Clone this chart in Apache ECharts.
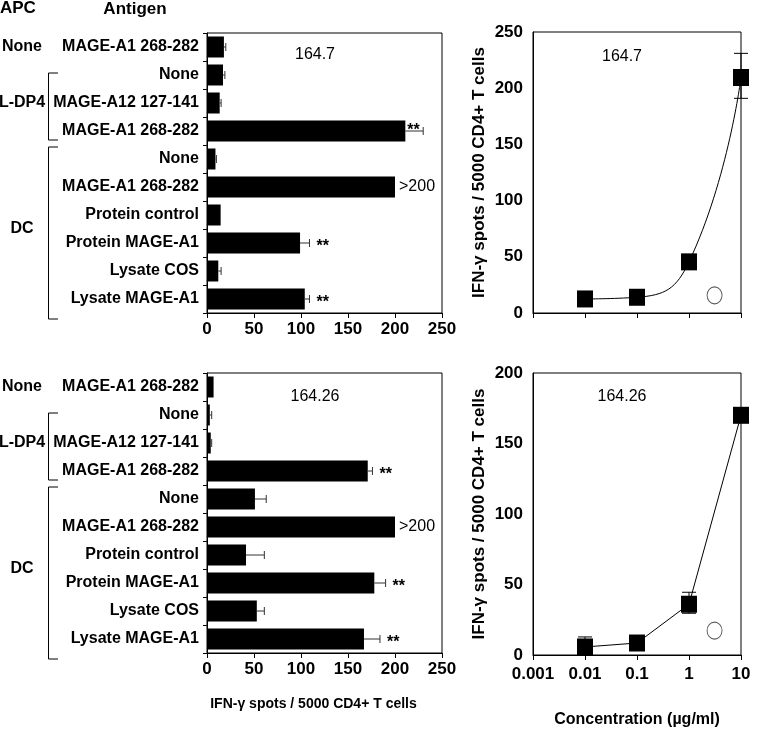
<!DOCTYPE html>
<html>
<head>
<meta charset="utf-8">
<title>IFN-γ spots</title>
<script src="https://cdn.jsdelivr.net/npm/echarts@6/dist/echarts.min.js"></script>
<style>
  html, body { margin: 0; padding: 0; background: #fff; }
  #chart { width: 761px; height: 729px; }
</style>
</head>
<body>
<div id="chart"></div>
<script>
// antigens on the left panels, top to bottom
var antigens = ['MAGE-A1 268-282', 'None', 'MAGE-A12 127-141', 'MAGE-A1 268-282', 'None',
  'MAGE-A1 268-282', 'Protein control', 'Protein MAGE-A1', 'Lysate COS', 'Lysate MAGE-A1'];
var apcNames = ['None', 'L-DP4', 'DC'];
var apcFrom = [0, 1, 4];
var apcTo = [0, 3, 9];

// clone 164.7
var spots7 = [18, 17, 13.5, 211, 9, 200, 14.5, 99, 12, 104];
var spots7Err = [20, 19, 15, 230, 10, null, null, 109, 15, 109];
var marks7 = ['', '', '', '**', '', '>200', '', '**', '', '**'];
// clone 164.26
var spots26 = [7, 3, 4, 171, 51, 200, 41.5, 178, 53, 167];
var spots26Err = [null, 5, 5, 176, 63, null, 61, 190, 61, 184];
var marks26 = ['', '', '', '**', '', '>200', '', '**', '', '**'];

// dose response (µg/ml)
var conc = [0.01, 0.1, 1, 10];
var dose7 = [12.5, 14, 45.5, 209.5];
var dose7Err = [null, null, null, [191, 231]];
var dose26 = [5.7, 8.5, 36, 170];
var dose26Err = [[0, 12.8], null, [29.6, 44.5], null];
var ctrlConc = [3.1];
var ctrl7 = [15.7];
var ctrl26 = [17.3];

var barTicks = [0, 50, 100, 150, 200, 250];
var dose7Ticks = [0, 50, 100, 150, 200, 250];
var dose26Ticks = [0, 50, 100, 150, 200];
var concTicks = [0.001, 0.01, 0.1, 1, 10];

var FONT = "'Liberation Sans', Arial, sans-serif";
var yTitle = 'IFN-γ spots / 5000 CD4+ T cells';

var BAR_LEFT = 207, BAR_W = 235, BAR_H = 280;
var PANEL_TOPS = [33, 373];
var ROW_H = BAR_H / antigens.length;

var chart = echarts.init(document.getElementById('chart'));

function txt(size, bold) {
  return { color: '#000', fontFamily: FONT, fontSize: size, fontWeight: bold ? 'bold' : 'normal' };
}

function barXAxis(gi, withName) {
  var ax = {
    type: 'value', gridIndex: gi,
    min: barTicks[0], max: barTicks[barTicks.length - 1], interval: barTicks[1] - barTicks[0],
    axisLine: { show: true, lineStyle: { color: '#000', width: 1 } },
    axisTick: { show: true, length: 5, lineStyle: { color: '#000' } },
    axisLabel: Object.assign({ margin: 8 }, txt(17, true)),
    splitLine: { show: false }
  };
  if (withName) {
    ax.name = yTitle;
    ax.nameLocation = 'middle';
    ax.nameGap = 44;
    ax.nameTextStyle = Object.assign({ padding: [0, 22, 0, 0] }, txt(14, true));
  }
  return ax;
}

function barYAxis(gi) {
  return {
    type: 'category', gridIndex: gi, data: antigens, inverse: true,
    axisLine: { show: true, lineStyle: { color: '#000', width: 1 } },
    axisTick: { show: true, length: 4, lineStyle: { color: '#000' } },
    axisLabel: Object.assign({ margin: 8, interval: 0 }, txt(16, true))
  };
}

function doseXAxis(gi, showLabels) {
  var ax = {
    type: 'log', logBase: 10, gridIndex: gi,
    min: concTicks[0], max: concTicks[concTicks.length - 1],
    axisLine: { show: true, lineStyle: { color: '#000', width: 1 } },
    axisTick: { show: true, length: 5, lineStyle: { color: '#000' } },
    axisLabel: Object.assign({ show: showLabels, margin: 11 }, txt(17, true)),
    splitLine: { show: false }
  };
  if (showLabels) {
    ax.name = 'Concentration (µg/ml)';
    ax.nameLocation = 'middle';
    ax.nameGap = 57;
    ax.nameTextStyle = txt(16, true);
  }
  return ax;
}

function doseYAxis(gi, ticks) {
  return {
    type: 'value', gridIndex: gi,
    min: ticks[0], max: ticks[ticks.length - 1], interval: ticks[1] - ticks[0],
    axisLine: { show: true, lineStyle: { color: '#000', width: 1 } },
    axisTick: { show: false },
    axisLabel: Object.assign({ margin: 10 }, txt(17, true)),
    splitLine: { show: false },
    name: yTitle, nameLocation: 'middle', nameRotate: 90, nameGap: 45,
    nameTextStyle: txt(17, true)
  };
}

// error bar + significance text on the horizontal bars
function barErrSeries(gi, vals, errs, marks) {
  return {
    type: 'custom', xAxisIndex: gi, yAxisIndex: gi, silent: true, z: 4,
    data: vals.map(function (v, i) { return [v, i]; }),
    encode: { x: 0, y: 1 },
    renderItem: function (params, api) {
      var i = params.dataIndex;
      var pv = api.coord([vals[i], i]);
      var y = pv[1];
      var kids = [];
      var endX = pv[0];
      if (errs[i] != null) {
        var ph = api.coord([errs[i], i]);
        kids.push({ type: 'line', shape: { x1: pv[0], y1: y, x2: ph[0], y2: y }, style: { stroke: '#333', lineWidth: 1 } });
        kids.push({ type: 'line', shape: { x1: ph[0], y1: y - 4, x2: ph[0], y2: y + 4 }, style: { stroke: '#333', lineWidth: 1 } });
        endX = ph[0];
      }
      var m = marks[i];
      if (m) {
        var right = params.coordSys.x + params.coordSys.width;
        var isStar = m.indexOf('*') === 0;
        var tx = endX + (isStar ? 7 : 4);
        var ty = isStar ? y + 4 : y;
        if (tx + 16 > right) { tx = pv[0] + 2; ty = y; }
        kids.push({
          type: 'text',
          style: { text: m, x: tx, y: ty, fill: '#000', fontFamily: FONT, fontSize: 16,
            fontWeight: isStar ? 'bold' : 'normal', align: 'left', verticalAlign: 'middle' }
        });
      }
      return { type: 'group', children: kids };
    }
  };
}

function doseErrSeries(gi, vals, errs) {
  return {
    type: 'custom', xAxisIndex: gi, yAxisIndex: gi, silent: true, z: 2,
    data: conc.map(function (c, i) { return [c, vals[i]]; }),
    encode: { x: 0, y: 1 },
    renderItem: function (params, api) {
      var i = params.dataIndex;
      var e = errs[i];
      if (!e) return null;
      var lo = api.coord([conc[i], e[0]]);
      var hi = api.coord([conc[i], e[1]]);
      var st = { stroke: '#000', lineWidth: 1 };
      return {
        type: 'group', children: [
          { type: 'line', shape: { x1: lo[0], y1: lo[1], x2: hi[0], y2: hi[1] }, style: st },
          { type: 'line', shape: { x1: lo[0] - 7, y1: lo[1], x2: lo[0] + 7, y2: lo[1] }, style: st },
          { type: 'line', shape: { x1: hi[0] - 7, y1: hi[1], x2: hi[0] + 7, y2: hi[1] }, style: st }
        ]
      };
    }
  };
}

function doseLine(gi, vals, smooth) {
  return {
    type: 'line', xAxisIndex: gi, yAxisIndex: gi, silent: true, z: 3,
    data: conc.map(function (c, i) { return [c, vals[i]]; }),
    smooth: smooth ? 0.5 : false,
    symbol: 'rect', symbolSize: [16, 17], showAllSymbol: true,
    lineStyle: { color: '#000', width: 1 },
    itemStyle: { color: '#000' }
  };
}

function ctrlSeries(gi, vals) {
  return {
    type: 'scatter', xAxisIndex: gi, yAxisIndex: gi, silent: true, z: 3,
    data: ctrlConc.map(function (c, i) { return [c, vals[i]]; }),
    symbol: 'circle', symbolSize: [15, 17],
    itemStyle: { color: '#fff', borderColor: '#333', borderWidth: 1 }
  };
}

// APC labels + brackets
var graphics = [
  { type: 'text', left: 0, top: 0, style: { text: 'APC', fill: '#000', font: 'bold 17px ' + FONT } },
  { type: 'text', x: 135, y: 9, style: { text: 'Antigen', fill: '#000', font: 'bold 17px ' + FONT, align: 'center', verticalAlign: 'middle' } },
  { type: 'text', x: 315, y: 55, style: { text: '164.7', fill: '#000', font: '16px ' + FONT, align: 'center', verticalAlign: 'middle' } },
  { type: 'text', x: 315, y: 397, style: { text: '164.26', fill: '#000', font: '16px ' + FONT, align: 'center', verticalAlign: 'middle' } },
  { type: 'text', x: 622, y: 57, style: { text: '164.7', fill: '#000', font: '16px ' + FONT, align: 'center', verticalAlign: 'middle' } },
  { type: 'text', x: 622, y: 397, style: { text: '164.26', fill: '#000', font: '16px ' + FONT, align: 'center', verticalAlign: 'middle' } }
];
PANEL_TOPS.forEach(function (top) {
  apcNames.forEach(function (name, g) {
    var cy = top + ROW_H * (apcFrom[g] + apcTo[g] + 1) / 2;
    graphics.push({ type: 'text', x: 22, y: cy,
      style: { text: name, fill: '#000', font: 'bold 16px ' + FONT, align: 'center', verticalAlign: 'middle' } });
    if (apcTo[g] > apcFrom[g]) {
      var y1 = top + ROW_H * apcFrom[g] + (g === 1 ? 12 : 2);
      var y2 = top + ROW_H * (apcTo[g] + 1) + (g === 1 ? -5 : 6);
      graphics.push({ type: 'polyline', shape: { points: [[58, y1], [48.5, y1], [48.5, y2], [58, y2]] },
        style: { stroke: '#000', lineWidth: 1, fill: null } });
    }
  });
});

var gridBase = { show: true, borderColor: '#000', borderWidth: 1, backgroundColor: 'transparent', containLabel: false, outerBoundsMode: 'none' };

chart.setOption({
  animation: false,
  backgroundColor: '#fff',
  textStyle: { fontFamily: FONT },
  grid: [
    Object.assign({ left: BAR_LEFT, top: PANEL_TOPS[0], width: BAR_W, height: BAR_H }, gridBase),
    Object.assign({ left: BAR_LEFT, top: PANEL_TOPS[1], width: BAR_W, height: BAR_H }, gridBase),
    Object.assign({ left: 533, top: 32, width: 208, height: 281 }, gridBase),
    Object.assign({ left: 533, top: 373, width: 208, height: 282 }, gridBase)
  ],
  xAxis: [barXAxis(0, false), barXAxis(1, true), doseXAxis(2, false), doseXAxis(3, true)],
  yAxis: [barYAxis(0), barYAxis(1), doseYAxis(2, dose7Ticks), doseYAxis(3, dose26Ticks)],
  series: [
    { type: 'bar', xAxisIndex: 0, yAxisIndex: 0, data: spots7, barCategoryGap: '25%', itemStyle: { color: '#000' }, silent: true },
    barErrSeries(0, spots7, spots7Err, marks7),
    { type: 'bar', xAxisIndex: 1, yAxisIndex: 1, data: spots26, barCategoryGap: '25%', itemStyle: { color: '#000' }, silent: true },
    barErrSeries(1, spots26, spots26Err, marks26),
    doseErrSeries(2, dose7, dose7Err),
    doseLine(2, dose7, true),
    ctrlSeries(2, ctrl7),
    doseErrSeries(3, dose26, dose26Err),
    doseLine(3, dose26, false),
    ctrlSeries(3, ctrl26)
  ],
  graphic: graphics
});
</script>
</body>
</html>
